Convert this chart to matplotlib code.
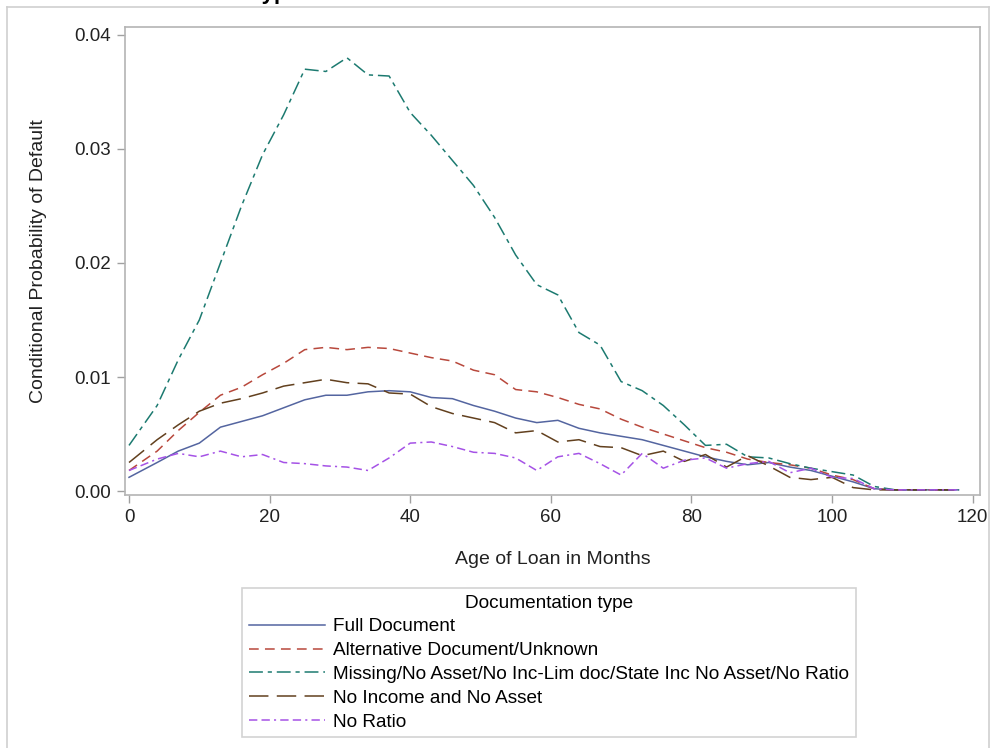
import matplotlib
matplotlib.use("Agg")
import matplotlib.pyplot as plt
from matplotlib.lines import Line2D

plt.rcParams["font.family"] = ["Liberation Sans", "DejaVu Sans"]
plt.rcParams["lines.scale_dashes"] = False

# loan age (months) at which each rate is observed
months = [0, 4, 7, 10, 13, 16, 19, 22, 25, 28, 31, 34, 37, 40, 43, 46, 49, 52, 55, 58,
          61, 64, 67, 70, 73, 76, 79, 82, 85, 88, 91, 94, 97, 100, 103, 106, 109, 112, 115, 118]

full_doc = [0.0012, 0.0025, 0.0035, 0.0042, 0.0056, 0.0061, 0.0066, 0.0073, 0.0080, 0.0084,
            0.0084, 0.0087, 0.0088, 0.0087, 0.0082, 0.0081, 0.0075, 0.0070, 0.0064, 0.0060,
            0.0062, 0.0055, 0.0051, 0.0048, 0.0045, 0.0040, 0.0035, 0.0030, 0.0026, 0.0023,
            0.0025, 0.0021, 0.0018, 0.0013, 0.0008, 0.0002, 0.0001, 0.0001, 0.0001, 0.0001]

alt_doc = [0.0018, 0.0035, 0.0053, 0.0069, 0.0084, 0.0091, 0.0102, 0.0112, 0.0124, 0.0126,
           0.0124, 0.0126, 0.0125, 0.0121, 0.0117, 0.0114, 0.0106, 0.0102, 0.0089, 0.0087,
           0.0082, 0.0076, 0.0072, 0.0063, 0.0056, 0.0050, 0.0044, 0.0038, 0.0034, 0.0028,
           0.0025, 0.0023, 0.0020, 0.0014, 0.0010, 0.0002, 0.0001, 0.0001, 0.0001, 0.0001]

missing_doc = [0.0040, 0.0075, 0.0115, 0.0150, 0.0200, 0.0250, 0.0295, 0.0330, 0.0370, 0.0368,
               0.0380, 0.0365, 0.0364, 0.0332, 0.0312, 0.0290, 0.0268, 0.0240, 0.0207, 0.0181,
               0.0172, 0.0139, 0.0128, 0.0096, 0.0088, 0.0075, 0.0058, 0.0040, 0.0041, 0.0030,
               0.0029, 0.0024, 0.0020, 0.0017, 0.0014, 0.0004, 0.0001, 0.0001, 0.0001, 0.0001]

no_inc_asset = [0.0025, 0.0045, 0.0058, 0.0070, 0.0077, 0.0081, 0.0086, 0.0092, 0.0095, 0.0098,
                0.0095, 0.0094, 0.0086, 0.0085, 0.0074, 0.0068, 0.0064, 0.0060, 0.0051, 0.0053,
                0.0043, 0.0045, 0.0039, 0.0038, 0.0031, 0.0035, 0.0026, 0.0032, 0.0021, 0.0031,
                0.0022, 0.0012, 0.0010, 0.0012, 0.0003, 0.0001, 0.0001, 0.0001, 0.0001, 0.0001]

no_ratio = [0.0018, 0.0028, 0.0033, 0.0030, 0.0035, 0.0030, 0.0032, 0.0025, 0.0024, 0.0022,
            0.0021, 0.0018, 0.0029, 0.0042, 0.0043, 0.0039, 0.0034, 0.0033, 0.0029, 0.0018,
            0.0030, 0.0033, 0.0024, 0.0014, 0.0033, 0.0020, 0.0027, 0.0029, 0.0020, 0.0024,
            0.0026, 0.0016, 0.0020, 0.0012, 0.0011, 0.0002, 0.0001, 0.0001, 0.0001, 0.0001]

labels = [
    "Full Document",
    "Alternative Document/Unknown",
    "Missing/No Asset/No Inc-Lim doc/State Inc No Asset/No Ratio",
    "No Income and No Asset",
    "No Ratio",
]
x_ticks = [0, 20, 40, 60, 80, 100, 120]
y_ticks = [0.00, 0.01, 0.02, 0.03, 0.04]

series = [full_doc, alt_doc, missing_doc, no_inc_asset, no_ratio]
colors = ["#5465a0", "#b8483c", "#1c7a70", "#62401e", "#a552e6"]
dashes = [
    "-",
    (0, (7, 4.5)),
    (0, (10, 3.5, 3, 3.5)),
    (0, (14, 6)),
    (0, (6, 3, 6, 3, 1.5, 3)),
]

W, H = 993, 748
fig = plt.figure(figsize=(W / 100, H / 100), dpi=100)
ax = fig.add_axes([125 / W, 1 - 495 / H, 855 / W, 468 / H])

for vals, col, ls, lab in zip(series, colors, dashes, labels):
    ax.plot(months, vals, color=col, linestyle=ls, linewidth=1.1, label=lab)

ax.set_xlim(-0.57, 121.05)
ax.set_ylim(-0.00035, 0.0407)
ax.set_xticks(x_ticks)
ax.set_yticks(y_ticks)
ax.set_yticklabels([f"{v:.2f}" for v in y_ticks])
ax.tick_params(axis="both", direction="out", length=6, width=1, color="#a0a0a0",
               labelsize=13.5, labelcolor="#222222", pad=4)
for sp in ax.spines.values():
    sp.set_color("#b4b4b4")
    sp.set_linewidth(1.2)

ax.set_xlabel("Age of Loan in Months", fontsize=14, color="#222222", labelpad=18)
ax.set_ylabel("Conditional Probability of Default", fontsize=14, color="#222222", labelpad=20)

handles = [Line2D([], [], color=c, linestyle=ls, linewidth=1.1) for c, ls in zip(colors, dashes)]
leg = fig.legend(handles, labels, title="Documentation type", loc="upper left",
                 bbox_to_anchor=(242 / W, 1 - 588 / H), fontsize=13.7, title_fontsize=13.7,
                 frameon=True, fancybox=False, handlelength=4.0, handletextpad=0.45,
                 labelspacing=0.34, borderpad=0.35, borderaxespad=0)
leg.get_frame().set_edgecolor("#c8c8c8")
leg.get_frame().set_linewidth(1.2)

# outer page border and the clipped title above it
fig.add_artist(Line2D([7 / W, 7 / W], [0, 1 - 7 / H], transform=fig.transFigure,
                      color="#cfcfcf", linewidth=1.2))
fig.add_artist(Line2D([7 / W, 989 / W], [1 - 7 / H, 1 - 7 / H], transform=fig.transFigure,
                      color="#cfcfcf", linewidth=1.2))
fig.add_artist(Line2D([989 / W, 989 / W], [0, 1 - 7 / H], transform=fig.transFigure,
                      color="#cfcfcf", linewidth=1.2))
fig.text(300 / W, 1 + 1 / H, "Documentation Type", fontsize=16, fontweight="bold",
         ha="right", va="baseline")

fig.savefig("out.png", dpi=100)
